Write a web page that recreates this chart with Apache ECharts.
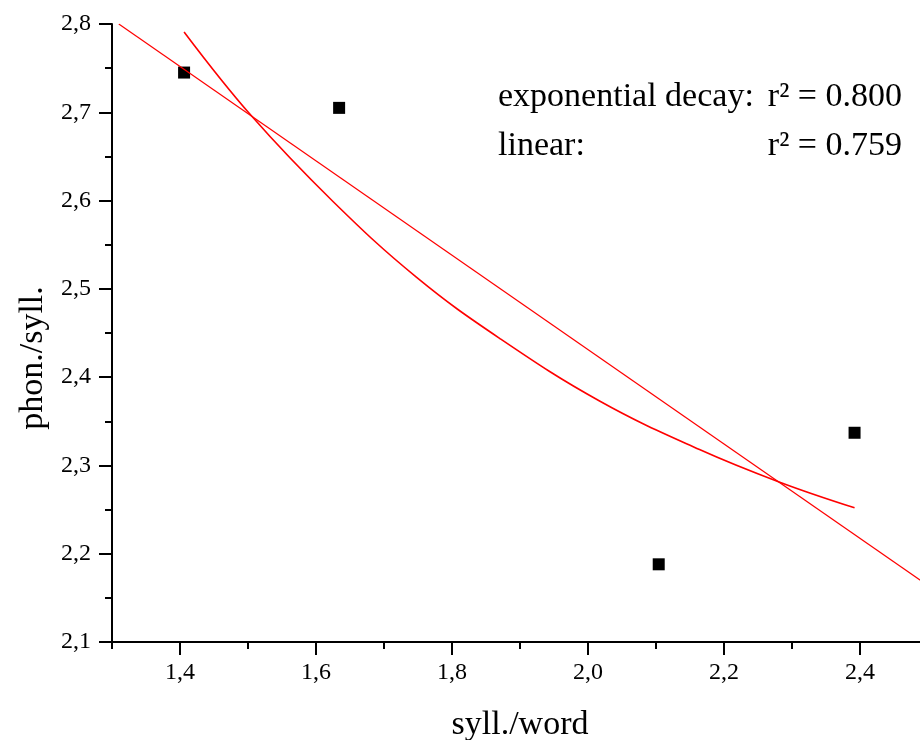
<!DOCTYPE html>
<html>
<head>
<meta charset="utf-8">
<script src="https://cdn.jsdelivr.net/npm/echarts@6/dist/echarts.min.js"></script>
<style>
html,body{margin:0;padding:0;background:#fff;}
#chart{width:920px;height:740px;}
</style>
</head>
<body>
<div id="chart"></div>
<script>
// ---- data ----
const pointsX = [1.406, 1.634, 2.104, 2.392];
const pointsY = [2.745, 2.705, 2.188, 2.337];

const linearX = [1.31, 2.5];
const linearY = [2.800, 2.164];

const expX = [1.406, 1.505, 1.625, 1.748, 1.870, 2.017, 2.164, 2.282, 2.392];
const expY = [2.791, 2.696, 2.599, 2.513, 2.444, 2.373, 2.318, 2.281, 2.252];

const xRange = [1.3, 2.5];
const yRange = [2.1, 2.8];
const xLabelRange = [1.4, 2.4];

const xName = 'syll./word';
const yName = 'phon./syll.';
const noteLines = [
  ['exponential decay:', 'r² = 0.800'],
  ['linear:', 'r² = 0.759']
];

// ---- layout ----
const W = 920;
const gLeft = 112, gTop = 24, gBottom = 98, gRight = -8;
const plotW = W - gLeft - gRight;
const xToPx = v => gLeft + plotW * (v - xRange[0]) / (xRange[1] - xRange[0]);
const g2Left = xToPx(xLabelRange[0]);
const g2Right = W - xToPx(xLabelRange[1]);

const FONT = "'Liberation Serif', 'DejaVu Serif', serif";
const fmt = v => v.toFixed(1).replace('.', ',');
const zip = (a, b) => a.map((v, i) => [v, b[i]]);

const chart = echarts.init(document.getElementById('chart'), null, {renderer: 'canvas'});
chart.setOption({
  backgroundColor: '#fff',
  animation: false,
  grid: [
    {left: gLeft, right: gRight, top: gTop, bottom: gBottom, containLabel: false, outerBoundsMode: 'none'},
    {left: g2Left, right: g2Right, top: gTop, bottom: gBottom, containLabel: false, outerBoundsMode: 'none'}
  ],
  xAxis: [
    {
      type: 'value', gridIndex: 0, min: xRange[0], max: xRange[1], interval: 0.1,
      axisLine: {show: true, onZero: false, lineStyle: {color: '#000', width: 2}},
      axisTick: {show: true, length: 7, lineStyle: {color: '#000', width: 2}},
      axisLabel: {show: false},
      splitLine: {show: false},
      name: xName, nameLocation: 'middle', nameGap: 66,
      nameTextStyle: {fontFamily: FONT, fontSize: 34, color: '#000'}
    },
    {
      type: 'value', gridIndex: 1, min: xLabelRange[0], max: xLabelRange[1], interval: 0.2,
      axisLine: {show: false, onZero: false},
      axisTick: {show: true, length: 13, lineStyle: {color: '#000', width: 2}},
      axisLabel: {show: true, margin: 19, formatter: fmt, fontFamily: FONT, fontSize: 24, color: '#000'},
      splitLine: {show: false}
    }
  ],
  yAxis: [
    {
      type: 'value', gridIndex: 0, min: yRange[0], max: yRange[1], interval: 0.1,
      axisLine: {show: true, onZero: false, lineStyle: {color: '#000', width: 2}},
      axisTick: {show: true, length: 13, lineStyle: {color: '#000', width: 2}},
      minorTick: {show: true, splitNumber: 2, length: 7, lineStyle: {color: '#000', width: 2}},
      axisLabel: {show: true, margin: 21, formatter: fmt, fontFamily: FONT, fontSize: 24, color: '#000'},
      splitLine: {show: false},
      name: yName, nameLocation: 'middle', nameGap: 57, nameRotate: 90,
      nameTextStyle: {fontFamily: FONT, fontSize: 34, color: '#000', padding: [0, 50, 0, 0]}
    },
    {
      type: 'value', gridIndex: 1, min: yRange[0], max: yRange[1], show: false
    }
  ],
  series: [
    {
      type: 'scatter', xAxisIndex: 0, yAxisIndex: 0,
      data: zip(pointsX, pointsY),
      symbol: 'rect', symbolSize: 12,
      itemStyle: {color: '#000', opacity: 1}, z: 2
    },
    {
      type: 'line', xAxisIndex: 0, yAxisIndex: 0,
      data: zip(linearX, linearY),
      showSymbol: false, symbol: 'none',
      lineStyle: {color: '#ff0000', width: 1.2}, z: 3
    },
    {
      type: 'line', xAxisIndex: 0, yAxisIndex: 0,
      data: zip(expX, expY),
      showSymbol: false, symbol: 'none', smooth: 0.4,
      lineStyle: {color: '#ff0000', width: 1.6}, z: 3
    }
  ],
  graphic: [
    {type: 'text', left: 498, top: 80, style: {text: noteLines[0][0], font: "34px " + FONT, fill: '#000'}},
    {type: 'text', right: 18, top: 80, style: {text: noteLines[0][1], font: "34px " + FONT, fill: '#000'}},
    {type: 'text', left: 498, top: 129, style: {text: noteLines[1][0], font: "34px " + FONT, fill: '#000'}},
    {type: 'text', right: 18, top: 129, style: {text: noteLines[1][1], font: "34px " + FONT, fill: '#000'}}
  ]
});
</script>
</body>
</html>
